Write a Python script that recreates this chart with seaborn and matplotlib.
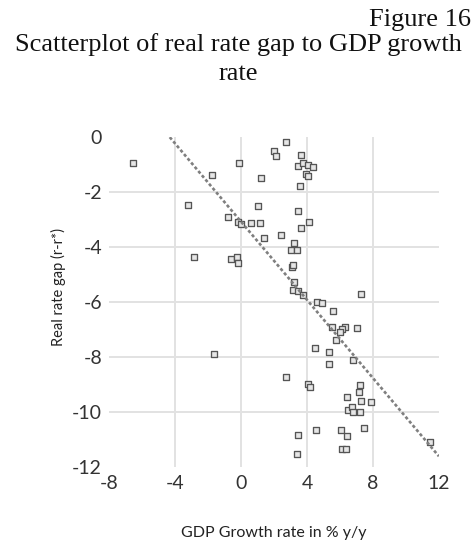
import matplotlib
matplotlib.use("Agg")
import matplotlib.pyplot as plt
import numpy as np
import pandas as pd
import seaborn as sns

# GDP growth (% y/y) and real rate gap (r - r*) observations
gdp_growth = [-6.55, -1.76, -3.21, -2.85, -0.79, -0.12, -1.64, 2.73, 2.00, 2.10,
              3.66, 3.47, 3.78, 4.08, 4.38, 3.94, 4.08, 1.21, 3.61, 1.05,
              3.48, -0.16, 0.00, 0.59, 1.15, 3.64, 4.12, 1.39, 2.41, 3.21,
              3.01, 3.38, -0.61, -0.26, -0.20, 3.07, 3.17, 3.23, 3.17, 3.47,
              3.78, 7.30, 4.59, 4.93, 5.59, 5.50, 6.30, 6.10, 6.00, 7.01,
              5.74, 4.48, 5.35, 6.81, 5.35, 2.71, 4.04, 4.18, 7.21, 7.17,
              6.41, 7.27, 7.88, 6.50, 6.71, 6.77, 7.21, 3.47, 4.53, 6.04,
              6.41, 7.47, 6.10, 6.36, 3.41, 11.48]
rate_gap = [-0.95, -1.38, -2.47, -4.36, -2.91, -0.95, -7.89, -0.19, -0.50, -0.68,
            -0.66, -1.07, -0.96, -1.02, -1.10, -1.36, -1.44, -1.50, -1.77, -2.51,
            -2.69, -3.08, -3.15, -3.12, -3.12, -3.30, -3.08, -3.66, -3.56, -3.87,
            -4.13, -4.13, -4.44, -4.35, -4.59, -4.72, -4.65, -5.26, -5.56, -5.62,
            -5.75, -5.71, -6.01, -6.05, -6.32, -6.90, -6.90, -6.99, -7.08, -6.96,
            -7.38, -7.66, -7.81, -8.11, -8.25, -8.74, -8.98, -9.08, -9.02, -9.28,
            -9.47, -9.60, -9.65, -9.93, -9.83, -10.01, -10.01, -10.84, -10.65, -10.65,
            -10.87, -10.59, -11.35, -11.35, -11.53, -11.09]

x_ticks = [-8, -4, 0, 4, 8, 12]
y_ticks = [0, -2, -4, -6, -8, -10, -12]

df = pd.DataFrame({"gdp": gdp_growth, "gap": rate_gap})

sns.set_theme(style="white")
plt.rcParams["font.family"] = ["Lato", "DejaVu Sans"]

fig = plt.figure(figsize=(4.76, 5.41), dpi=100)
ax = fig.add_axes([0.229, 0.137, 0.693, 0.610])

ax.set_xlim(-8, 12)
ax.set_ylim(-12, 0)

sns.scatterplot(data=df, x="gdp", y="gap", ax=ax, marker="s", s=19,
                color="#e6e6e6", edgecolor="#555555", linewidth=0.95, zorder=3)

# linear trend across the full horizontal range
sns.regplot(data=df, x="gdp", y="gap", ax=ax, scatter=False, ci=None,
            truncate=False,
            line_kws=dict(color="#7f7f7f", lw=1.9, dashes=(1.2, 0.9), zorder=4))

ax.set_xlim(-8, 12)
ax.set_ylim(-12, 0)
ax.set_xticks(x_ticks)
ax.set_yticks(y_ticks)
ax.set_xticklabels([str(v) for v in x_ticks])
ax.set_yticklabels([str(v) for v in y_ticks])
ax.tick_params(axis="both", length=0, labelsize=14, colors="#333333")
ax.tick_params(axis="x", pad=6)
ax.tick_params(axis="y", pad=5)

ax.grid(True, color="#e2e2e2", lw=1.4, zorder=0)
ax.set_axisbelow(True)
for lines in (ax.xaxis.get_gridlines(), ax.yaxis.get_gridlines()):
    lines[0].set_visible(False)
    lines[-1].set_visible(False)
for sp in ax.spines.values():
    sp.set_visible(False)

ax.set_xlabel("GDP Growth rate in % y/y", fontsize=11.5, color="#222222")
ax.xaxis.set_label_coords(0.5, -0.178)
ax.set_ylabel("Real rate gap (r-r*)", fontsize=10.5, color="#222222")
ax.yaxis.set_label_coords(-0.13, 0.545)

title_font = dict(family="Liberation Serif", fontsize=19, color="#111111")
fig.text(0.99, 0.963, "Figure 16", ha="right", va="center", **title_font)
fig.text(0.5, 0.917, "Scatterplot of real rate gap to GDP growth", ha="center",
         va="center", **title_font)
fig.text(0.5, 0.864, "rate", ha="center", va="center", **title_font)

fig.savefig("out.png", dpi=100)
